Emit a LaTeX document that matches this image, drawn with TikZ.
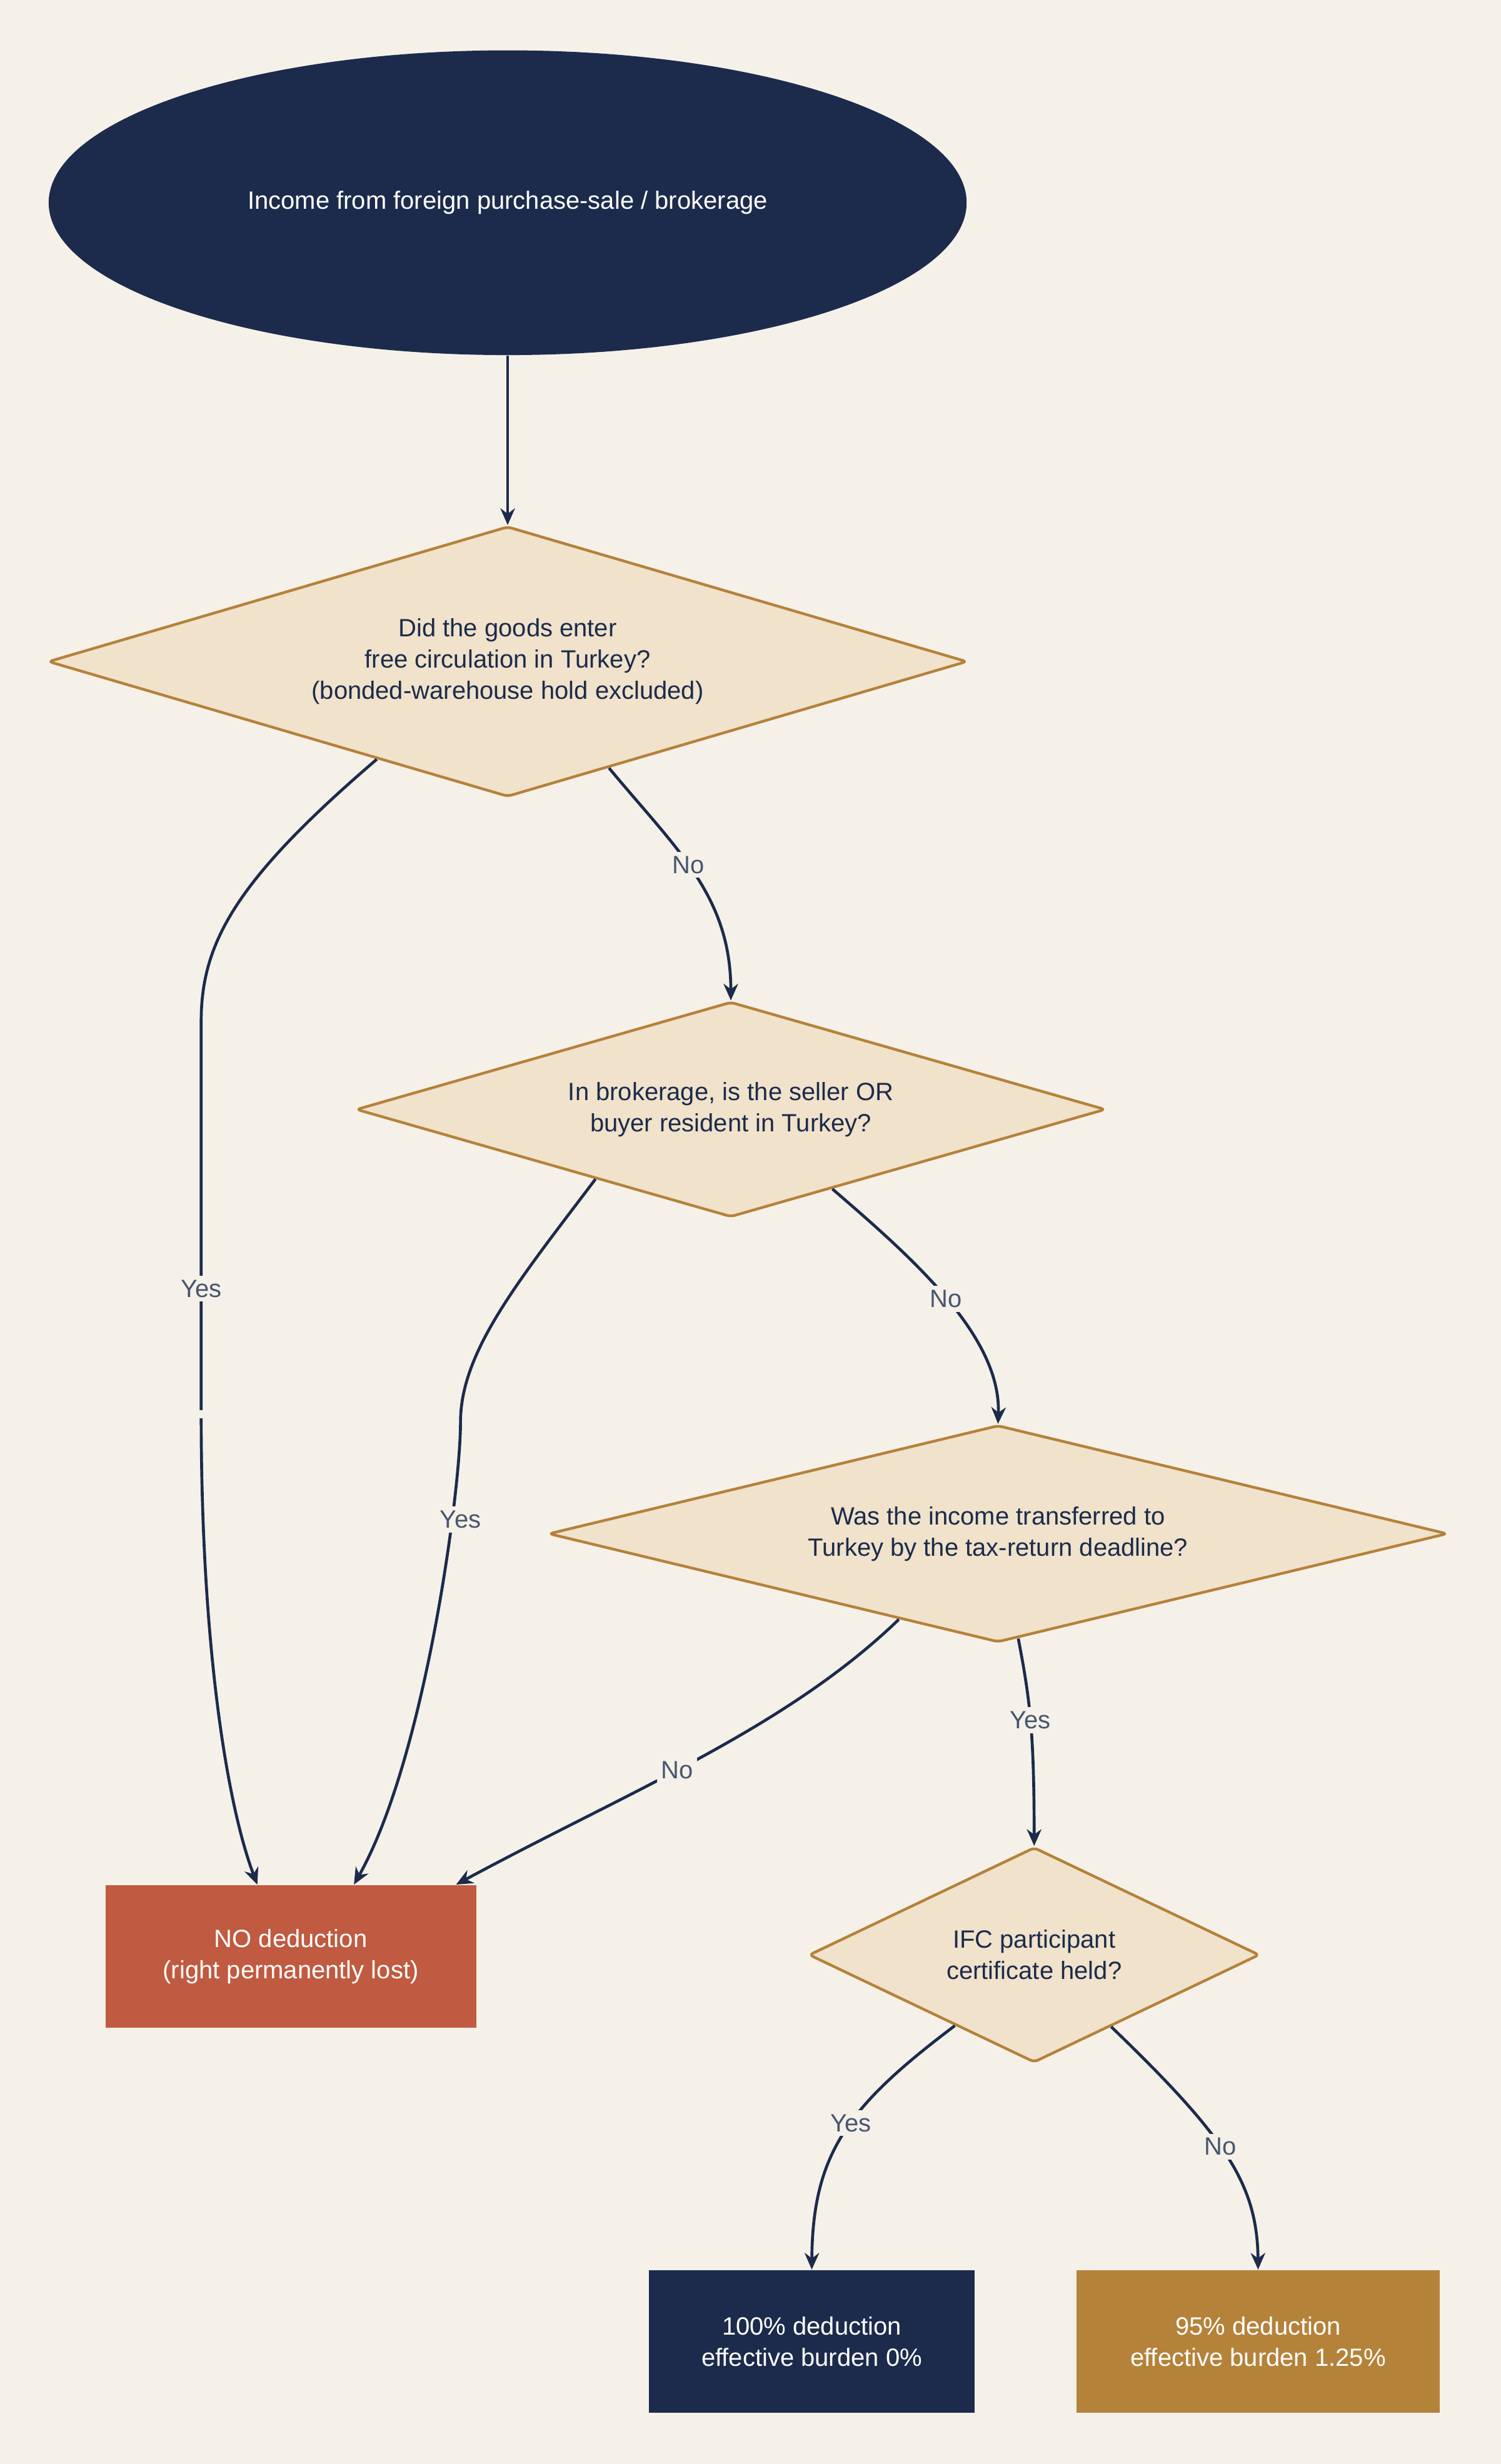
\documentclass[tikz,border=0pt]{standalone}
\usepackage{fontspec}
\setmainfont{Liberation Sans}
\usetikzlibrary{shapes.geometric,arrows.meta,calc}
\definecolor{bg}{HTML}{F5F1E9}
\definecolor{navy}{HTML}{1C2B4B}
\definecolor{dfill}{HTML}{F0E2CB}
\definecolor{dline}{HTML}{B5813A}
\definecolor{red}{HTML}{C05A40}
\definecolor{gold}{HTML}{B5823A}
\begin{document}
\begin{tikzpicture}[x=0.0265cm,y=-0.0265cm,
  every node/.style={font=\fontsize{12}{15}\selectfont,align=center},
  dia/.style={diamond,draw=dline,fill=dfill,line width=1.3pt,inner sep=0pt,text=navy,rounded corners=2pt},
  box/.style={rectangle,minimum width=#1,inner sep=0pt,minimum height=2.41cm,text=white},
  ar/.style={draw=navy,line width=1.4pt,-{Stealth[length=8pt,width=7pt]}},
  lab/.style={fill=bg,text=navy!80,inner sep=2pt}]
\fill[bg] (0,0) rectangle (955,1568);
\useasboundingbox (0,0) rectangle (955,1568);
\node[ellipse,fill=navy,text=white,minimum width=15.48cm,minimum height=5.14cm,inner sep=0pt] (s) at (323,129) {Income from foreign purchase-sale / brokerage};
\node[dia,minimum width=15.5cm,minimum height=4.56cm,aspect=3.4] (d1) at (323,421) {Did the goods enter\\free circulation in Turkey?\\(bonded-warehouse hold excluded)};
\node[dia,minimum width=12.64cm,minimum height=3.63cm,aspect=3.48] (d2) at (465,706) {In brokerage, is the seller OR\\buyer resident in Turkey?};
\node[dia,minimum width=15.16cm,minimum height=3.66cm,aspect=4.14] (d3) at (635,976) {Was the income transferred to\\Turkey by the tax-return deadline?};
\node[dia,minimum width=7.6cm,minimum height=3.63cm,aspect=2.1] (d4) at (658,1244) {IFC participant\\certificate held?};
\node[box=6.25cm,fill=red] (no) at (185,1245) {NO deduction\\(right permanently lost)};
\node[box=5.49cm,fill=navy] (full) at (516.5,1490) {100\% deduction\\effective burden 0\%};
\node[box=6.12cm,fill=gold] (part) at (800.5,1490) {95\% deduction\\effective burden 1.25\%};
\draw[ar] (s.south) -- (d1.north);
\draw[ar] ($(d1.west)!0.716!(d1.south)$) .. controls (150,560) and (128,600) .. (128,650) -- (128,900) .. controls (128,1050) and (145,1150) .. ($(no.north west)!0.41!(no.north east)$) node[pos=0,lab] {};
\node[lab] at (128,820) {Yes};
\draw[ar] ($(d1.east)!0.78!(d1.south)$) .. controls (430,540) and (465,570) .. (d2.north) node[pos=0.45,lab] {No};
\draw[ar] ($(d2.west)!0.64!(d2.south)$) .. controls (330,815) and (293,860) .. (293,905) .. controls (293,950) and (270,1120) .. ($(no.north west)!0.67!(no.north east)$);
\node[lab] at (293,967) {Yes};
\draw[ar] ($(d2.east)!0.73!(d2.south)$) .. controls (580,800) and (637,850) .. (d3.north) node[pos=0.5,lab] {No};
\draw[ar] ($(d3.west)!0.78!(d3.south)$) .. controls (500,1100) and (400,1140) .. ($(no.north east)+(-13,0)$) node[pos=0.55,lab] {No};
\draw[ar] ($(d3.east)!0.955!(d3.south)$) .. controls (655,1080) and (658,1100) .. (d4.north) node[pos=0.5,lab] {Yes};
\draw[ar] ($(d4.west)!0.65!(d4.south)$) .. controls (540,1340) and (517,1370) .. (full.north) node[pos=0.45,lab] {Yes};
\draw[ar] ($(d4.east)!0.66!(d4.south)$) .. controls (780,1360) and (800,1390) .. (part.north) node[pos=0.45,lab] {No};
\end{tikzpicture}
\end{document}
